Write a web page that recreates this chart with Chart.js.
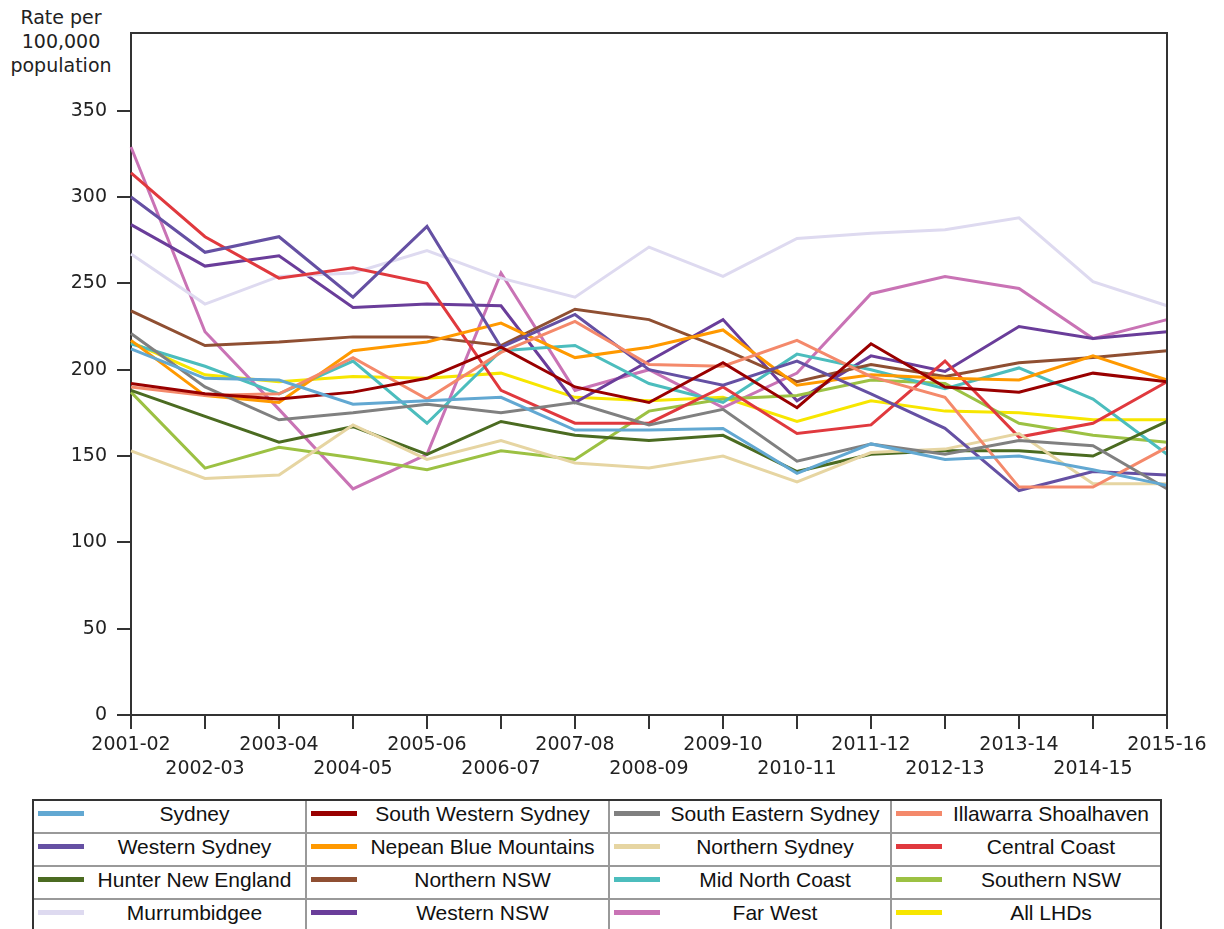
<!DOCTYPE html>
<html>
<head>
<meta charset="utf-8">
<script src="https://cdn.jsdelivr.net/npm/chart.js@4.4.0/dist/chart.umd.min.js"></script>
<style>
  body { margin: 0; background: #fff; width: 1224px; height: 929px; overflow: hidden; position: relative; }
  #chart { position: absolute; left: 0; top: 0; }
  #ytitle {
    position: absolute; left: 0; top: 5px; width: 122px; text-align: center;
    font-family: "DejaVu Sans"; font-size: 19px; line-height: 24px; color: #222;
  }
  #legend { position: absolute; left: 32px; top: 799px; border: 2px solid #333; background: #fff; }
  #legend table { border-collapse: collapse; table-layout: fixed; font-family: "Liberation Sans", Arial; font-size: 21px; color: #111; }
  #legend td { height: 31px; padding: 0; border-right: 2px solid #999; border-bottom: 2px solid #999; }
  #legend td:last-child { border-right: none; }
  #legend tr:last-child td { border-bottom: none; }
  .cell { display: flex; align-items: center; height: 25px; padding-bottom: 6px; }
  .swatch { width: 46px; height: 5px; margin-left: 4px; flex: none; }
  .name { flex: 1; text-align: center; white-space: nowrap; }
</style>
</head>
<body>
<div id="ytitle">Rate per<br>100,000<br>population</div>
<canvas id="chart" width="1224" height="790"></canvas>
<div id="legend"><table id="legendTable">
  <colgroup><col style="width:272px"><col style="width:303px"><col style="width:282px"><col style="width:269px"></colgroup>
  <tbody></tbody>
</table></div>

<script>
"use strict";

// DATA
const years = ["2001-02", "2002-03", "2003-04", "2004-05", "2005-06", "2006-07", "2007-08",
  "2008-09", "2009-10", "2010-11", "2011-12", "2012-13", "2013-14", "2014-15", "2015-16"];
const yTicks = [0, 50, 100, 150, 200, 250, 300, 350];

const sydney = [212, 195, 194, 180, 182, 184, 165, 165, 166, 140, 157, 148, 150, 142, 133];
const southWesternSydney = [192, 186, 183, 187, 195, 213, 190, 181, 204, 178, 215, 190, 187, 198, 193];
const southEasternSydney = [221, 190, 171, 175, 180, 175, 181, 168, 177, 147, 157, 151, 159, 156, 131];
const illawarraShoalhaven = [190, 185, 186, 207, 183, 210, 228, 203, 202, 217, 196, 184, 132, 132, 155];
const westernSydney = [300, 268, 277, 242, 283, 213, 232, 200, 191, 205, 186, 166, 130, 141, 139];
const nepeanBlueMountains = [217, 185, 181, 211, 216, 227, 207, 213, 223, 191, 197, 195, 194, 208, 194];
const northernSydney = [153, 137, 139, 168, 148, 159, 146, 143, 150, 135, 152, 154, 163, 134, 134];
const centralCoast = [314, 277, 253, 259, 250, 188, 169, 169, 190, 163, 168, 205, 161, 169, 193];
const hunterNewEngland = [188, 173, 158, 167, 151, 170, 162, 159, 162, 141, 151, 153, 153, 150, 170];
const northernNSW = [234, 214, 216, 219, 219, 214, 235, 229, 212, 193, 203, 196, 204, 207, 211];
const midNorthCoast = [215, 202, 186, 205, 169, 211, 214, 192, 181, 209, 200, 189, 201, 183, 151];
const southernNSW = [187, 143, 155, 149, 142, 153, 148, 176, 183, 185, 194, 192, 169, 162, 158];
const murrumbidgee = [267, 238, 254, 256, 269, 253, 242, 271, 254, 276, 279, 281, 288, 251, 237];
const westernNSW = [284, 260, 266, 236, 238, 237, 181, 205, 229, 182, 208, 199, 225, 218, 222];
const farWest = [329, 222, 177, 131, 151, 256, 188, 200, 178, 198, 244, 254, 247, 218, 229];
const allLHDs = [216, 197, 193, 196, 195, 198, 184, 182, 184, 170, 182, 176, 175, 171, 171];

const seriesNames = ["Sydney", "South Western Sydney", "South Eastern Sydney", "Illawarra Shoalhaven",
  "Western Sydney", "Nepean Blue Mountains", "Northern Sydney", "Central Coast",
  "Hunter New England", "Northern NSW", "Mid North Coast", "Southern NSW",
  "Murrumbidgee", "Western NSW", "Far West", "All LHDs"];
const seriesValues = [sydney, southWesternSydney, southEasternSydney, illawarraShoalhaven,
  westernSydney, nepeanBlueMountains, northernSydney, centralCoast,
  hunterNewEngland, northernNSW, midNorthCoast, southernNSW,
  murrumbidgee, westernNSW, farWest, allLHDs];
const seriesColors = ["#62a8d2", "#990000", "#808080", "#f4896b",
  "#6550a3", "#ff9900", "#e6d5a2", "#e0393e",
  "#4b6b21", "#8f4f32", "#4cbdbd", "#9cc143",
  "#dedaf0", "#6a3d9a", "#c973b5", "#f7e600"];

// LEGEND TABLE
const tbody = document.querySelector("#legendTable tbody");
for (let r = 0; r < 4; r++) {
  const tr = document.createElement("tr");
  for (let c = 0; c < 4; c++) {
    const i = r * 4 + c;
    const td = document.createElement("td");
    td.innerHTML = `<div class="cell"><span class="swatch" style="background:${seriesColors[i]}"></span><span class="name">${seriesNames[i]}</span></div>`;
    tr.appendChild(td);
  }
  tbody.appendChild(tr);
}

// top + right edges of the plot box
const frameBox = {
  id: "frameBox",
  afterDraw(chart) {
    const { ctx, chartArea: a } = chart;
    ctx.save();
    ctx.strokeStyle = "#333";
    ctx.lineWidth = 2;
    ctx.beginPath();
    ctx.moveTo(a.left, a.top);
    ctx.lineTo(a.right, a.top);
    ctx.lineTo(a.right, a.bottom);
    ctx.stroke();
    ctx.restore();
  },
};

const tickFont = { family: "DejaVu Sans", size: 19, lineHeight: 24 / 19 };

const myChart = new Chart(document.getElementById("chart").getContext("2d"), {
  type: "line",
  data: {
    labels: years,
    datasets: seriesNames.map((name, i) => ({
      label: name,
      data: seriesValues[i],
      borderColor: seriesColors[i],
      backgroundColor: seriesColors[i],
      borderWidth: 3,
      pointRadius: 0,
      tension: 0,
      fill: false,
    })),
  },
  options: {
    responsive: false,
    animation: false,
    devicePixelRatio: 1,
    layout: { padding: { top: 33, right: 57, left: 0, bottom: 0 } },
    plugins: { legend: { display: false }, tooltip: { enabled: false } },
    scales: {
      x: {
        offset: false,
        afterFit: (scale) => { scale.height = 75; },
        grid: { drawOnChartArea: false, drawTicks: true, tickLength: 14, color: "#333", lineWidth: 2 },
        border: { display: true, color: "#333", width: 2 },
        ticks: {
          autoSkip: false,
          maxRotation: 0,
          minRotation: 0,
          padding: 4,
          color: "#222",
          font: tickFont,
          callback: (val, i) => (i % 2 === 0 ? [years[i], ""] : ["", years[i]]),
        },
      },
      y: {
        min: 0,
        max: 395,
        afterFit: (scale) => { scale.width = 131; },
        afterBuildTicks: (axis) => { axis.ticks = yTicks.map((v) => ({ value: v })); },
        grid: { drawOnChartArea: false, drawTicks: true, tickLength: 14, color: "#333", lineWidth: 2 },
        border: { display: true, color: "#333", width: 2 },
        ticks: { padding: 10, color: "#222", font: tickFont },
      },
    },
  },
  plugins: [frameBox],
});
</script>
</body>
</html>
